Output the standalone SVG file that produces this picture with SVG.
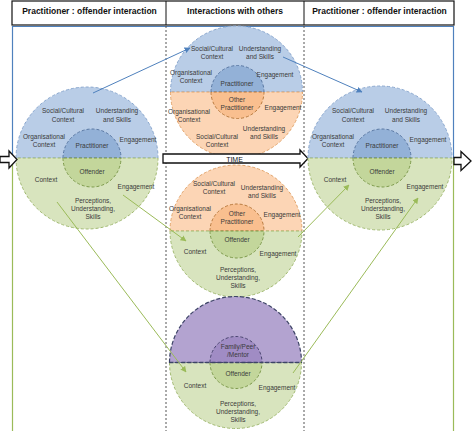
<svg xmlns="http://www.w3.org/2000/svg" width="474" height="431" viewBox="0 0 474 431">
<defs>
<style>
text{font-family:"Liberation Sans",Arial,sans-serif;font-size:6.5px;fill:#3a3a3a;text-anchor:middle}
.hd{font-size:8.5px;font-weight:bold;fill:#111}
.bt{fill:#b9cde7;stroke:#8ba8cf;stroke-width:1;stroke-dasharray:3 2}
.bi{fill:#93b1d7;stroke:#5a78a3;stroke-width:1;stroke-dasharray:3 2}
.gt{fill:#d8e4be;stroke:#a2ba72;stroke-width:1;stroke-dasharray:3 2}
.gi{fill:#c3d69b;stroke:#7d9a4b;stroke-width:1;stroke-dasharray:3 2}
.ot{fill:#fcd5b5;stroke:#e2a56c;stroke-width:1;stroke-dasharray:3 2}
.oi{fill:#f9bf8f;stroke:#b87a3e;stroke-width:1;stroke-dasharray:3 2}
.pt{fill:#b3a3d0;stroke:#3d4466;stroke-width:1.2;stroke-dasharray:4 2}
.pi{fill:#a08cc4;stroke:#4a4570;stroke-width:1;stroke-dasharray:3 2}
.hollow{fill:#fff;stroke:#111;stroke-width:1.3}
.cb{stroke:#4f81bd;stroke-width:1;fill:none;marker-end:url(#ab)}
.cg{stroke:#9bbb59;stroke-width:1;fill:none;marker-end:url(#ag)}
</style>
<marker id="ab" viewBox="0 0 10 10" refX="9" refY="5" markerWidth="6" markerHeight="6" orient="auto" markerUnits="userSpaceOnUse"><path d="M0,0 L10,5 L0,10 z" fill="#4f81bd"/></marker>
<marker id="ag" viewBox="0 0 10 10" refX="9" refY="5" markerWidth="6" markerHeight="6" orient="auto" markerUnits="userSpaceOnUse"><path d="M0,0 L10,5 L0,10 z" fill="#9bbb59"/></marker>
</defs>
<rect width="474" height="431" fill="#fff"/>

<g id="header">
<rect x="12" y="1" width="442" height="24" fill="#fff" stroke="#111" stroke-width="1.2"/>
<line x1="166" y1="1" x2="166" y2="25" stroke="#111" stroke-width="1"/>
<line x1="304" y1="1" x2="304" y2="25" stroke="#111" stroke-width="1"/>
<text class="hd" x="89.5" y="14">Practitioner : offender interaction</text>
<text class="hd" x="235" y="14">Interactions with others</text>
<text class="hd" x="379.5" y="14">Practitioner : offender interaction</text>
</g>

<g id="frame">
<line x1="12" y1="26.5" x2="454" y2="26.5" stroke="#4f81bd" stroke-width="1"/>
<line x1="12.5" y1="26" x2="12.5" y2="158" stroke="#4f81bd" stroke-width="1.2"/>
<line x1="12.5" y1="158" x2="12.5" y2="431" stroke="#9bbb59" stroke-width="1.2"/>
<line x1="453.5" y1="26" x2="453.5" y2="158" stroke="#4f81bd" stroke-width="1.2"/>
<line x1="453.5" y1="158" x2="453.5" y2="431" stroke="#9bbb59" stroke-width="1.2"/>
<line x1="166" y1="26" x2="166" y2="431" stroke="#555" stroke-width="1" stroke-dasharray="2 2"/>
<line x1="304" y1="26" x2="304" y2="431" stroke="#555" stroke-width="1" stroke-dasharray="2 2"/>
</g>

<g id="node-left">
<path class="bt" d="M16,158 A71,71 0 0 1 158,158 Z"/>
<path class="gt" d="M16,158 A71,71 0 0 0 158,158 Z"/>
<path class="bi" d="M63,158 A29,29 0 0 1 121,158 Z"/>
<path class="gi" d="M63,158 A29,29 0 0 0 121,158 Z"/>
<text x="63" y="113">Social/Cultural</text><text x="63" y="121.5">Context</text>
<text x="117" y="113">Understanding</text><text x="117" y="121.5">and Skills</text>
<text x="44" y="138.5">Organisational</text><text x="44" y="146.5">Context</text>
<text x="138" y="141.5">Engagement</text>
<text x="92" y="147.5">Practitioner</text>
<text x="92" y="173.5">Offender</text>
<text x="46" y="181.5">Context</text>
<text x="136" y="188.5">Engagement</text>
<text x="93" y="202.5">Perceptions,</text><text x="93" y="210.5">Understanding,</text><text x="93" y="219">Skills</text>
</g>

<g id="node-top">
<path class="bt" d="M170.5,92 A66,66 0 0 1 302.5,92 Z"/>
<path class="ot" d="M170.5,92 A66,66 0 0 0 302.5,92 Z"/>
<path class="bi" d="M211,92 A26.5,26.5 0 0 1 264,92 Z"/>
<path class="oi" d="M211,92 A26.5,26.5 0 0 0 264,92 Z"/>
<text x="212" y="50.5">Social/Cultural</text><text x="212" y="58.5">Context</text>
<text x="260" y="50.5">Understanding</text><text x="260" y="58.5">and Skills</text>
<text x="191" y="74.5">Organisational</text><text x="191" y="82.5">Context</text>
<text x="275" y="76.5">Engagement</text>
<text x="237" y="85.5">Practitioner</text>
<text x="237" y="101.5">Other</text><text x="237" y="109.5">Practitioner</text>
<text x="283" y="109.5">Engagement</text>
<text x="189" y="113.5">Organisational</text><text x="189" y="121.5">Context</text>
<text x="264" y="130.5">Understanding</text><text x="264" y="139">and Skills</text>
<text x="217" y="139">Social/Cultural</text><text x="217" y="147">Context</text>
</g>

<g id="time">
<polygon class="hollow" points="163,154 300,154 300,150 308,158.5 300,167 300,163 163,163"/>
<text x="234.5" y="161.5" style="font-size:7px;fill:#111">TIME</text>
</g>

<g id="node-middle">
<path class="ot" d="M170,231 A66,66 0 0 1 302,231 Z"/>
<path class="gt" d="M170,231 A66,66 0 0 0 302,231 Z"/>
<path class="oi" d="M210,231 A27,27 0 0 1 264,231 Z"/>
<path class="gi" d="M210,231 A27,27 0 0 0 264,231 Z"/>
<text x="214" y="185.5">Social/Cultural</text><text x="214" y="194">Context</text>
<text x="262" y="189.5">Understanding</text><text x="262" y="197.5">and Skills</text>
<text x="190" y="210.5">Organisational</text><text x="190" y="218.5">Context</text>
<text x="282" y="216.5">Engagement</text>
<text x="237" y="215.5">Other</text><text x="237" y="223.5">Practitioner</text>
<text x="237" y="241.5">Offender</text>
<text x="195" y="253.5">Context</text>
<text x="278" y="255.5">Engagement</text>
<text x="238" y="271.5">Perceptions,</text><text x="238" y="279.5">Understanding,</text><text x="238" y="287.5">Skills</text>
</g>

<g id="node-bottom">
<path class="gt" d="M169.5,362.5 A66,66 0 0 0 301.5,362.5 Z"/>
<path class="pt" d="M169.5,362.5 A66,66 0 0 1 301.5,362.5 Z"/>
<path class="gi" d="M210,362.5 A26,26 0 0 0 262,362.5 Z"/>
<path class="pi" d="M210,362.5 A26,26 0 0 1 262,362.5 Z"/>
<line x1="169.5" y1="362.5" x2="301.5" y2="362.5" stroke="#3d4466" stroke-width="1.4" stroke-dasharray="4 2"/>
<text x="238" y="348.5">Family/Peer</text><text x="238" y="356.5">/Mentor</text>
<text x="238" y="375.5">Offender</text>
<text x="195" y="387.5">Context</text>
<text x="277" y="389.5">Engagement</text>
<text x="238" y="405.5">Perceptions,</text><text x="238" y="413.5">Understanding,</text><text x="238" y="421.5">Skills</text>
</g>

<g id="node-right">
<path class="bt" d="M308,158 A72,72 0 0 1 452,158 Z"/>
<path class="gt" d="M308,158 A72,72 0 0 0 452,158 Z"/>
<path class="bi" d="M353,158 A29,29 0 0 1 411,158 Z"/>
<path class="gi" d="M353,158 A29,29 0 0 0 411,158 Z"/>
<text x="353" y="113">Social/Cultural</text><text x="353" y="121.5">Context</text>
<text x="406" y="113">Understanding</text><text x="406" y="121.5">and Skills</text>
<text x="333" y="138.5">Organisational</text><text x="333" y="146.5">Context</text>
<text x="428" y="141.5">Engagement</text>
<text x="382" y="147.5">Practitioner</text>
<text x="382" y="173.5">Offender</text>
<text x="335" y="181.5">Context</text>
<text x="425" y="188.5">Engagement</text>
<text x="383" y="202.5">Perceptions,</text><text x="383" y="210.5">Understanding,</text><text x="383" y="219">Skills</text>
</g>

<g id="connectors">
<line class="cb" x1="93" y1="93" x2="190" y2="48"/>
<line class="cb" x1="283" y1="57" x2="362" y2="92"/>
<line class="cg" x1="123" y1="195" x2="186" y2="241"/>
<line class="cg" x1="57" y1="202" x2="186" y2="372"/>
<line class="cg" x1="298" y1="237" x2="349" y2="185"/>
<line class="cg" x1="293" y1="373" x2="418" y2="198"/>
</g>

<g id="side-arrows">
<polygon class="hollow" points="0,156.5 9,156.5 9,151 17,159.5 9,168 9,162.5 0,162.5"/>
<polygon class="hollow" points="454,157.5 461,157.5 461,151.5 471,161 461,170.5 461,164.5 454,164.5"/>
</g>
</svg>
